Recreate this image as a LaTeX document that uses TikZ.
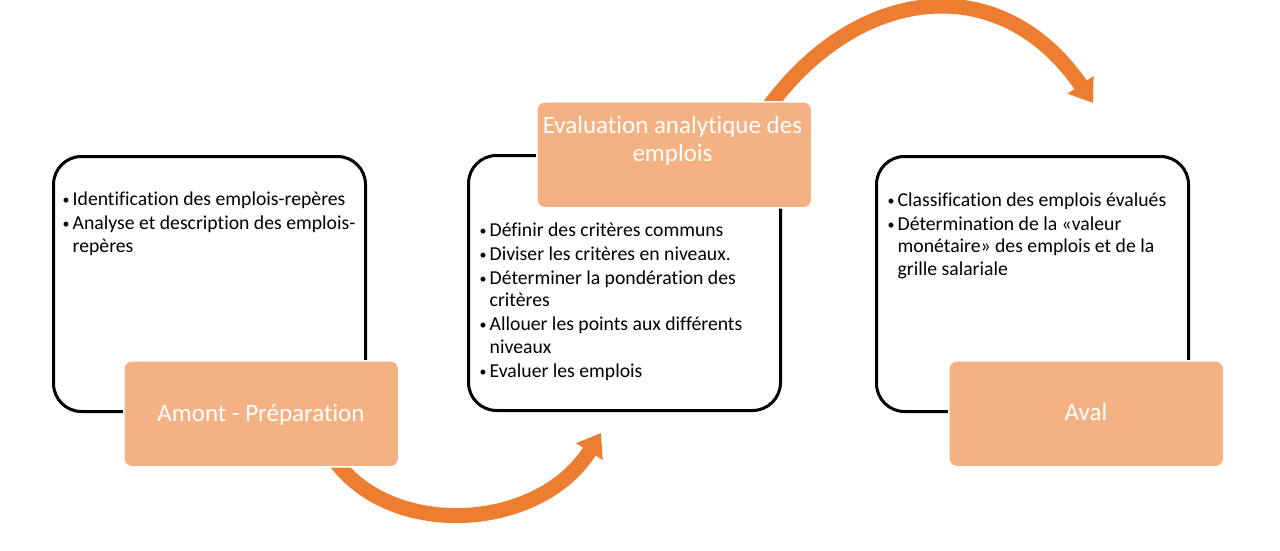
\documentclass[tikz,border=0pt]{standalone}
\usepackage{fontspec}
\setmainfont{Carlito}[Ligatures=NoCommon]
\usetikzlibrary{arrows.meta}
\definecolor{arroworange}{HTML}{ED7D31}
\definecolor{boxorange}{HTML}{F4B183}
\newcommand\listitem[1]{\par\noindent\hangindent=10.5pt\hangafter=1\makebox[10.5pt][l]{\hspace{0.5pt}\raisebox{1pt}{\fontsize{14}{14}\selectfont•}}#1\par}
\tikzset{
  outline/.style={draw=black, line width=3pt, rounded corners=28pt, fill=white,
    anchor=north west, minimum width=312pt, minimum height=255pt, inner sep=0},
  stage/.style={fill=boxorange, draw=white, line width=1.5pt, rounded corners=8pt,
    anchor=north west, minimum width=275pt, minimum height=106pt, inner sep=0},
  stagetext/.style={text=white, font=\fontsize{25}{28}\selectfont, inner sep=0, anchor=base},
  listtext/.style={anchor=base west, inner sep=0, font=\fontsize{19.7}{22.5}\selectfont},
  flow/.style={draw=arroworange, line width=15pt, -{Triangle[length=22pt,width=30pt]}},
}
\begin{document}
\begin{tikzpicture}[x=1pt,y=-1pt]
\useasboundingbox[fill=white] (0,0) rectangle (1280,551);
% outline boxes
\node[outline] (o1) at (52,155) {};
\node[outline] (o2) at (467,154) {};
\node[outline] (o3) at (875,155) {};
% connectors
\coordinate (a1s) at (336,462);
\coordinate (a1e) at (601,433);
\coordinate (a2s) at (765,112);
\coordinate (a2e) at (1093,103);
\draw[flow] (a1s) .. controls (395,540) and (540,530) .. (a1e);
\draw[flow] (a2s) .. controls (855,-15) and (1000,-33) .. (a2e);
% stage boxes
\node[stage] (s1) at (123,360) {};
\node[stage] (s2) at (536,101) {};
\node[stage] (s3) at (948,360) {};
\node[stagetext] (t1) at (261,421.5) {Amont - Préparation};
\node[stagetext] (t2) at (672.5,133.5) {\parbox[t]{290pt}{\centering Evaluation analytique des\\emplois}};
\node[stagetext] (t3) at (1086,420.5) {Aval};
% lists
\node[listtext] (l1) at (62,205.5) {\parbox[t]{300pt}{\parskip=1.5pt
\listitem{Identification des emplois-repères}
\listitem{Analyse et description des emplois-\\repères}}};
\node[listtext] (l2) at (479,236) {\parbox[t]{300pt}{\parskip=1.5pt
\listitem{Définir des critères communs}
\listitem{Diviser les critères en niveaux.}
\listitem{Déterminer la pondération des\\critères}
\listitem{Allouer les points aux différents\\niveaux}
\listitem{Evaluer les emplois}}};
\node[listtext] (l3) at (887,206) {\parbox[t]{300pt}{\parskip=1.5pt
\listitem{Classification des emplois évalués}
\listitem{Détermination de la «valeur\\monétaire» des emplois et de la\\grille salariale}}};
\end{tikzpicture}
\end{document}
